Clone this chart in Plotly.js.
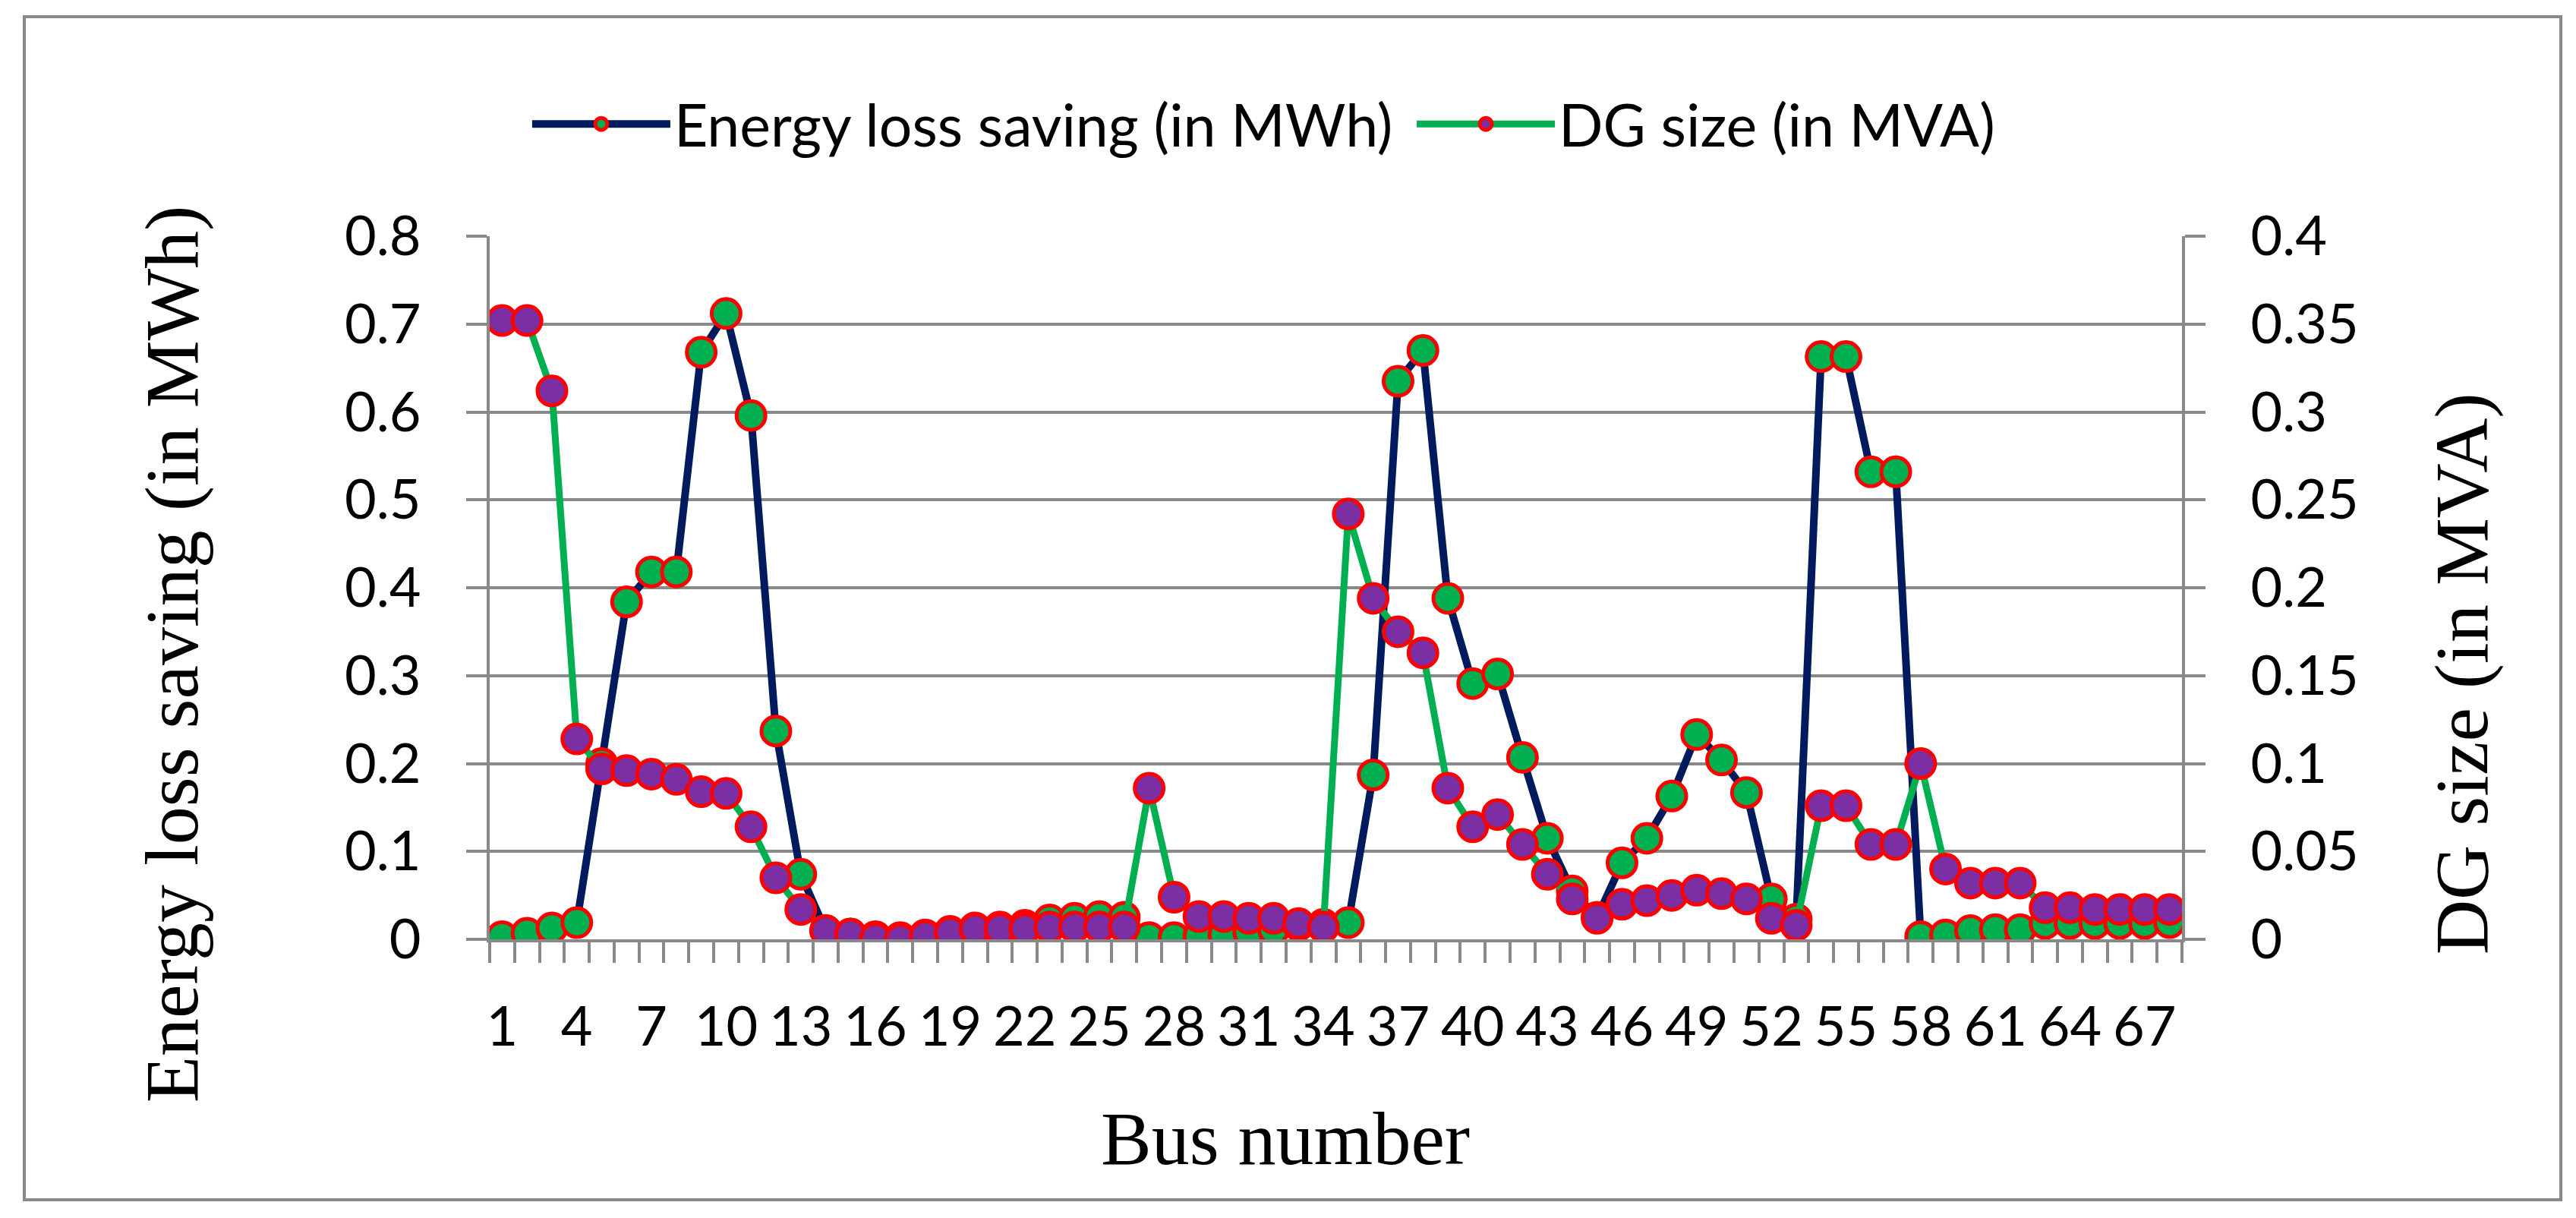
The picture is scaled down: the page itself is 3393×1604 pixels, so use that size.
<!DOCTYPE html>
<html>
<head>
<meta charset="utf-8">
<script src="https://cdn.plot.ly/plotly-3.0.1.min.js"></script>
<style>
  body { margin: 0; background: #fff; }
  #graph { width: 3393px; height: 1604px; }
</style>
</head>
<body>
<div id="graph"></div>
<script>
let buses = [];
for (let i = 1; i <= 68; i++) {
    buses.push(String(i));
}

// only every third bus gets a label
let busLabels = buses.map((b, i) => (i % 3 === 0 ? b : ""));

let energySaving = [
    0.003, 0.007, 0.013, 0.019, 0.200, 0.384, 0.418, 0.418, 0.668, 0.712,
    0.596, 0.237, 0.074, 0.010, 0.006, 0.003, 0.002, 0.005, 0.009, 0.013,
    0.014, 0.016, 0.022, 0.024, 0.026, 0.025, 0.002, 0.002, 0.004, 0.005,
    0.008, 0.011, 0.016, 0.017, 0.019, 0.187, 0.635, 0.670, 0.388, 0.291,
    0.302, 0.207, 0.115, 0.055, 0.025, 0.087, 0.115, 0.163, 0.233, 0.204,
    0.167, 0.046, 0.023, 0.663, 0.663, 0.532, 0.532, 0.003, 0.005, 0.010,
    0.011, 0.011, 0.018, 0.018, 0.018, 0.018, 0.018, 0.019
];

let dgSize = [
    0.352, 0.352, 0.312, 0.114, 0.097, 0.096, 0.094, 0.091, 0.084, 0.083,
    0.064, 0.035, 0.017, 0.005, 0.003, 0.0005, 0.000, 0.002, 0.004, 0.006,
    0.006, 0.006, 0.007, 0.007, 0.007, 0.007, 0.086, 0.024, 0.013, 0.013,
    0.012, 0.012, 0.009, 0.007, 0.242, 0.194, 0.175, 0.163, 0.086, 0.064,
    0.071, 0.054, 0.037, 0.023, 0.012, 0.020, 0.022, 0.025, 0.028, 0.026,
    0.023, 0.012, 0.008, 0.076, 0.076, 0.054, 0.054, 0.100, 0.040, 0.032,
    0.032, 0.032, 0.018, 0.018, 0.017, 0.017, 0.017, 0.017
];

let gridGray = "#898989";
let tickFont = { family: "Lato", size: 72, color: "#000" };
let titleFont = { family: "Liberation Serif", size: 100, color: "#000" };
let legendFont = { family: "Lato", size: 77, color: "#000" };

function plot() {
    let energy = {
        x: buses,
        y: energySaving,
        name: "Energy loss saving (in MWh)",
        type: "scatter",
        mode: "lines+markers",
        yaxis: "y",
        legend: "legend",
        line: { color: "#001A5E", width: 10 },
        marker: {
            size: 38,
            color: "#00B050",
            line: { color: "#FF0000", width: 5 }
        }
    };

    let dg = {
        x: buses,
        y: dgSize,
        name: "DG size (in MVA)",
        type: "scatter",
        mode: "lines+markers",
        yaxis: "y2",
        legend: "legend2",
        line: { color: "#00B050", width: 9 },
        marker: {
            size: 38,
            color: "#7C2FA2",
            line: { color: "#FF0000", width: 5 }
        }
    };

    let layout = {
        width: 3393,
        height: 1604,
        paper_bgcolor: "#fff",
        plot_bgcolor: "#fff",
        margin: { l: 645, r: 519, t: 311, b: 367, pad: 0 },
        showlegend: true,
        legend: {
            orientation: "h",
            xref: "container",
            yref: "container",
            x: 0.2051,
            xanchor: "left",
            y: 0.898,
            yanchor: "middle",
            itemwidth: 182,
            font: legendFont,
            bgcolor: "rgba(0,0,0,0)"
        },
        legend2: {
            orientation: "h",
            xref: "container",
            yref: "container",
            x: 0.5485,
            xanchor: "left",
            y: 0.898,
            yanchor: "middle",
            itemwidth: 182,
            font: legendFont,
            bgcolor: "rgba(0,0,0,0)"
        },
        xaxis: {
            type: "category",
            range: [-0.5, 67.5],
            tickmode: "array",
            tickvals: buses,
            ticktext: busLabels,
            tickson: "boundaries",
            ticks: "outside",
            ticklen: 27,
            tickwidth: 4,
            tickcolor: gridGray,
            ticklabelstandoff: 50,
            showgrid: false,
            zeroline: false,
            showline: true,
            linecolor: gridGray,
            linewidth: 4,
            tickfont: tickFont,
            tickangle: 0
        },
        yaxis: {
            range: [0, 0.8],
            dtick: 0.1,
            showgrid: true,
            gridcolor: gridGray,
            gridwidth: 4,
            zeroline: false,
            showline: true,
            linecolor: gridGray,
            linewidth: 4,
            ticks: "outside",
            ticklen: 27,
            tickwidth: 4,
            tickcolor: gridGray,
            ticklabelstandoff: 45,
            tickfont: tickFont
        },
        yaxis2: {
            range: [0, 0.4],
            dtick: 0.05,
            overlaying: "y",
            side: "right",
            showgrid: false,
            zeroline: false,
            showline: true,
            linecolor: gridGray,
            linewidth: 4,
            ticks: "outside",
            ticklen: 27,
            tickwidth: 4,
            tickcolor: gridGray,
            ticklabelstandoff: 45,
            tickfont: tickFont
        },
        annotations: [
            {
                text: "Energy loss saving (in MWh)",
                xref: "paper", yref: "paper",
                x: -0.1880, y: 0.406,
                xanchor: "center", yanchor: "middle",
                textangle: -90,
                showarrow: false,
                font: titleFont
            },
            {
                text: "DG size (in MVA)",
                xref: "paper", yref: "paper",
                x: 1.1656, y: 0.378,
                xanchor: "center", yanchor: "middle",
                textangle: -90,
                showarrow: false,
                font: titleFont
            },
            {
                text: "Bus number",
                xref: "paper", yref: "paper",
                x: 0.4702, y: -0.284,
                xanchor: "center", yanchor: "middle",
                showarrow: false,
                font: titleFont
            }
        ],
        shapes: [
            {
                type: "rect",
                xref: "paper", yref: "paper",
                x0: -0.275, x1: 1.2239,
                y0: -0.3704, y1: 1.3121,
                line: { color: gridGray, width: 4 },
                fillcolor: "rgba(0,0,0,0)"
            }
        ]
    };

    Plotly.newPlot("graph", [energy, dg], layout, { staticPlot: true });
}

plot();
</script>
</body>
</html>
